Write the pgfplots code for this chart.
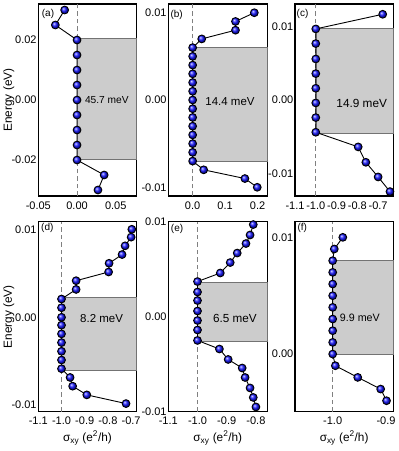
\documentclass[border=0pt]{standalone}
\usepackage{fontspec}
\setmainfont{Liberation Sans}
\usepackage{pgfplots}
\pgfplotsset{compat=1.18}
\usetikzlibrary{shadings}
\tikzset{
  plab/.style={anchor=north west, inner sep=0pt, font=\fontsize{10}{12}\selectfont},
  glab/.style={font=\fontsize{#1}{13}\selectfont},
}
\pgfplotsset{
  panel/.style={
    scale only axis, anchor=south west, clip=false,
    axis line style={line width=1.1pt, black},
    major tick length=0pt, minor tick num=0,
    scaled ticks=false,
    /pgf/number format/assume math mode=true,
    ticklabel style={font=\fontsize{11}{13}\selectfont},
    yticklabel style={inner xsep=1.5pt},
    xticklabel style={yshift=-2pt},
    label style={font=\fontsize{11.8}{14}\selectfont},
  },
  gap/.style={fill=black!20, draw=black!55, line width=0.5pt},
  zeroline/.style={draw=black!50, line width=0.9pt, dash pattern=on 4.5pt off 3pt},
  balls/.style={black, line width=0.9pt, mark=ball, mark size=3.9pt, mark options={ball color={rgb,255:red,20;green,20;blue,255}}},
  fmt2/.style={/pgf/number format/.cd, fixed, fixed zerofill, precision=2},
  fmt1/.style={/pgf/number format/.cd, fixed, fixed zerofill, precision=1},
  elab/.style={ylabel={Energy (eV)}, ylabel style={at={(axis description cs:-0.30,0.5)}, anchor=center}},
  slab/.style={xlabel={σ\textsubscript{xy} (e\textsuperscript{2}/h)}, xlabel style={at={(axis description cs:0.5,-0.138)}, anchor=center}},
}
\begin{document}
\begin{tikzpicture}[x=1pt,y=1pt]
\useasboundingbox (0,0) rectangle (399,451);
% (a)
\begin{axis}[panel, at={(38.3pt,255pt)}, width=98.4pt, height=192pt,
  xmin=-0.05, xmax=0.077, ymin=-0.032, ymax=0.032,
  xtick={-0.05,0,0.05}, ytick={-0.02,0,0.02},
  xticklabel style={fmt2}, yticklabel style={fmt2}, elab]
\addplot[gap] coordinates {(0,0.0205) (0.077,0.0205) (0.077,-0.0199) (0,-0.0199)} -- cycle;
\addplot[zeroline] coordinates {(0,-0.032) (0,0.032)};
\addplot[balls] coordinates {(-0.016,0.030) (-0.028,0.025) (0,0.020) (0,0.015) (0,0.010) (0,0.005) (0,0) (0,-0.005) (0,-0.010) (0,-0.015) (0,-0.020) (0.035,-0.025) (0.027,-0.030)};
\node[glab=10.2] at (axis cs:0.0385,0) {45.7 meV};
\node[plab] at (axis description cs:0,1) [xshift=3.4pt, yshift=-5.3pt] {(a)};
\end{axis}
% (b)
\begin{axis}[panel, at={(168.3pt,255pt)}, width=99pt, height=192pt,
  xmin=-0.075, xmax=0.23, ymin=-0.011, ymax=0.011,
  xtick={0,0.1,0.2}, ytick={-0.01,0,0.01},
  xticklabel style={fmt1}, yticklabel style={fmt2}]
\addplot[gap] coordinates {(0,0.0061) (0.23,0.0061) (0.23,-0.0070) (0,-0.0070)} -- cycle;
\addplot[zeroline] coordinates {(0,-0.011) (0,0.011)};
\addplot[balls] coordinates {(0.190,0.010) (0.132,0.009) (0.132,0.008) (0.028,0.007) (0,0.006) (0,0.005) (0,0.004) (0,0.003) (0,0.002) (0,0.001) (0,0) (0,-0.001) (0,-0.002) (0,-0.003) (0,-0.004) (0,-0.005) (0,-0.006) (0,-0.007) (0.034,-0.008) (0.161,-0.009) (0.199,-0.010)};
\node[glab=11.5] at (axis cs:0.115,-0.0002) {14.4 meV};
\node[plab] at (axis description cs:0,1) [xshift=2pt, yshift=-6pt] {(b)};
\end{axis}
% (c)
\begin{axis}[panel, at={(295pt,255pt)}, width=98.3pt, height=192pt,
  xmin=-1.1, xmax=-0.627, ymin=-0.0131, ymax=0.0131,
  xtick={-1.1,-1.0,-0.9,-0.8,-0.7}, ytick={-0.01,0,0.01},
  xticklabel style={fmt1}, yticklabel style={fmt2}]
\addplot[gap] coordinates {(-1.0,0.0098) (-0.627,0.0098) (-0.627,-0.00455) (-1.0,-0.00455)} -- cycle;
\addplot[zeroline] coordinates {(-1.0,-0.0131) (-1.0,0.0131)};
\addplot[balls] coordinates {(-0.678,0.0117) (-1.0,0.0097) (-1.0,0.0077) (-1.0,0.0056) (-1.0,0.0036) (-1.0,0.0016) (-1.0,-0.0004) (-1.0,-0.0024) (-1.0,-0.0044) (-0.796,-0.0064) (-0.759,-0.0085) (-0.700,-0.0105) (-0.643,-0.0125)};
\node[glab=11.8] at (axis cs:-0.779,-0.00045) {14.9 meV};
\node[plab] at (axis description cs:0,1) [xshift=1.5pt, yshift=-5.3pt] {(c)};
\end{axis}
% (d)
\begin{axis}[panel, at={(38.3pt,39.3pt)}, width=98.4pt, height=190pt,
  xmin=-1.1, xmax=-0.676, ymin=-0.01083, ymax=0.01097,
  xtick={-1.1,-1.0,-0.9,-0.8,-0.7}, ytick={-0.01,0,0.01},
  xticklabel style={fmt1}, yticklabel style={fmt2}, elab, slab]
\addplot[gap] coordinates {(-1.0,0.0023) (-0.676,0.0023) (-0.676,-0.0061) (-1.0,-0.0061)} -- cycle;
\addplot[zeroline] coordinates {(-1.0,-0.01083) (-1.0,0.01097)};
\addplot[balls] coordinates {(-0.697,0.0101) (-0.700,0.0092) (-0.726,0.0082) (-0.739,0.0072) (-0.795,0.0062) (-0.797,0.0052) (-0.937,0.0042) (-0.937,0.0032) (-1.0,0.0021) (-1.0,0.0011) (-1.0,0.0000) (-1.0,-0.0009) (-1.0,-0.0019) (-1.0,-0.0029) (-1.0,-0.0039) (-1.0,-0.0049) (-1.0,-0.0059) (-0.963,-0.0069) (-0.952,-0.0079) (-0.891,-0.0089) (-0.722,-0.0099)};
\node[glab=11.5] at (axis cs:-0.827,-0.0001) {8.2 meV};
\node[plab] at (axis description cs:0,1) [xshift=2.7pt, yshift=-1.6pt] {(d)};
\end{axis}
% (e)
\begin{axis}[panel, at={(168.3pt,39.3pt)}, width=99pt, height=190pt,
  xmin=-1.1, xmax=-0.761, ymin=-0.01, ymax=0.01,
  xtick={-1.1,-1.0,-0.9,-0.8}, ytick={-0.01,0,0.01},
  xticklabel style={fmt1}, yticklabel style={fmt2}, slab]
\addplot[gap] coordinates {(-1.0,0.00365) (-0.761,0.00365) (-0.761,-0.00256) (-1.0,-0.00256)} -- cycle;
\addplot[zeroline] coordinates {(-1.0,-0.01) (-1.0,0.01)};
\addplot[balls] coordinates {(-0.809,0.0097) (-0.820,0.0086) (-0.834,0.0077) (-0.864,0.0067) (-0.888,0.0057) (-0.922,0.0046) (-1.0,0.0037) (-1.0,0.0026) (-1.0,0.0017) (-1.0,0.0006) (-1.0,-0.0004) (-1.0,-0.0014) (-1.0,-0.0025) (-0.925,-0.0034) (-0.895,-0.0045) (-0.847,-0.0054) (-0.837,-0.0064) (-0.820,-0.0075) (-0.809,-0.0085) (-0.800,-0.0095)};
\node[glab=11.7] at (axis cs:-0.872,-0.00017) {6.5 meV};
\node[plab] at (axis description cs:0,1) [xshift=2.5pt, yshift=-2.3pt] {(e)};
\end{axis}
% (f)
\begin{axis}[panel, at={(295pt,39.3pt)}, width=98.3pt, height=190pt,
  xmin=-1.0707, xmax=-0.8863, ymin=-0.00494, ymax=0.01134,
  xtick={-1.0,-0.9}, ytick={0,0.01},
  xticklabel style={fmt1}, yticklabel style={fmt2}, slab]
\addplot[gap] coordinates {(-1.0,0.0080) (-0.8863,0.0080) (-0.8863,0) (-1.0,0)} -- cycle;
\addplot[zeroline] coordinates {(-1.0,-0.00494) (-1.0,0.01134)};
\addplot[balls] coordinates {(-0.981,0.010) (-0.997,0.009) (-1.0,0.008) (-1.0,0.007) (-1.0,0.006) (-1.0,0.005) (-1.0,0.004) (-1.0,0.003) (-1.0,0.002) (-1.0,0.001) (-1.0,0.000) (-0.995,-0.001) (-0.953,-0.002) (-0.910,-0.003) (-0.899,-0.004)};
\node[glab=10.7] at (axis cs:-0.949,0.0031) {9.9 meV};
\node[plab] at (axis description cs:0,1) [xshift=2.3pt, yshift=-1.6pt] {(f)};
\end{axis}
\end{tikzpicture}
\end{document}
